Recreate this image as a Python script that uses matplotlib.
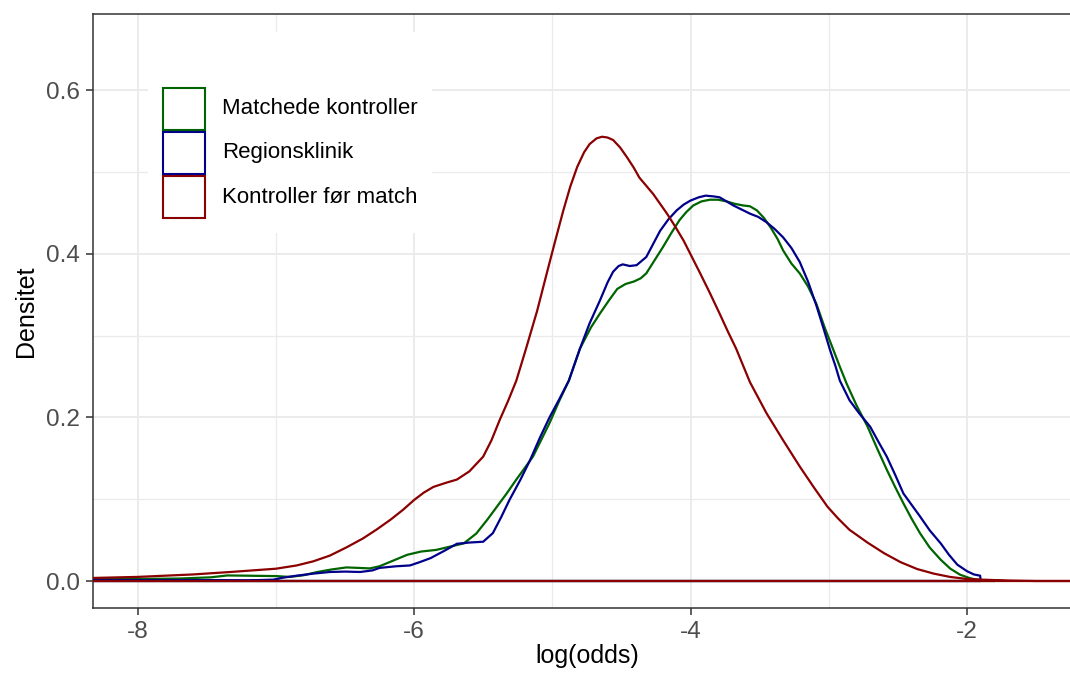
import numpy as np
import matplotlib.pyplot as plt
from matplotlib.patches import Rectangle
from matplotlib.ticker import FormatStrFormatter

plt.rcParams['font.family'] = ['Liberation Sans', 'DejaVu Sans']
plt.rcParams['axes.unicode_minus'] = False

# Matchede kontroller (groen)
x_match = [-8.6, -8.33, -8.0, -7.7, -7.47, -7.35, -7.0, -6.9, -6.8, -6.7, -6.6,
           -6.49, -6.4, -6.32, -6.25, -6.15, -6.05, -5.95, -5.84, -5.74, -5.64,
           -5.55, -5.47, -5.40, -5.33, -5.26, -5.14, -5.02, -4.95, -4.88, -4.80,
           -4.72, -4.655, -4.59, -4.53, -4.47, -4.41, -4.36, -4.32, -4.26, -4.20,
           -4.14, -4.08, -4.03, -3.98, -3.92, -3.86, -3.80, -3.74, -3.68, -3.62,
           -3.57, -3.52, -3.47, -3.42, -3.37, -3.33, -3.27, -3.21, -3.15, -3.09,
           -3.03, -2.97, -2.92, -2.87, -2.80, -2.72, -2.65, -2.58, -2.52, -2.46,
           -2.40, -2.34, -2.27, -2.19, -2.12, -2.05, -1.98, -1.93, -1.85, -1.80]
y_match = [0.002, 0.0024, 0.0025, 0.003, 0.0045, 0.0068, 0.006, 0.005, 0.007, 0.011, 0.014,
           0.0166, 0.016, 0.0154, 0.018, 0.025, 0.032, 0.036, 0.038, 0.042, 0.046,
           0.058, 0.075, 0.091, 0.107, 0.124, 0.152, 0.193, 0.220, 0.245, 0.284,
           0.310, 0.327, 0.343, 0.357, 0.363, 0.366, 0.370, 0.376, 0.392, 0.408,
           0.425, 0.441, 0.451, 0.459, 0.464, 0.466, 0.466, 0.464, 0.461, 0.459,
           0.458, 0.453, 0.444, 0.432, 0.418, 0.404, 0.388, 0.376, 0.360, 0.339,
           0.310, 0.284, 0.262, 0.241, 0.215, 0.189, 0.162, 0.136, 0.115, 0.095,
           0.076, 0.0585, 0.041, 0.026, 0.015, 0.0077, 0.0035, 0.0016, 0.0005, 0.0]

# Regionsklinik (blaa)
x_region = [-8.6, -8.33, -8.0, -7.5, -7.2, -7.02, -6.95, -6.85, -6.73, -6.61, -6.5,
            -6.39, -6.30, -6.25, -6.13, -6.03, -5.96, -5.88, -5.78, -5.69, -5.60,
            -5.50, -5.43, -5.37, -5.31, -5.23, -5.16, -5.09, -5.02, -4.95, -4.88,
            -4.80, -4.73, -4.655, -4.60, -4.56, -4.52, -4.49, -4.44, -4.39, -4.32,
            -4.27, -4.22, -4.16, -4.10, -4.05, -4.00, -3.94, -3.89, -3.83, -3.79,
            -3.74, -3.69, -3.63, -3.57, -3.51, -3.45, -3.39, -3.33, -3.27, -3.21,
            -3.15, -3.09, -3.04, -2.99, -2.95, -2.92, -2.85, -2.78, -2.70, -2.64,
            -2.58, -2.52, -2.46, -2.40, -2.34, -2.27, -2.19, -2.13, -2.07, -2.00,
            -1.95, -1.905, -1.90]
y_region = [0.0008, 0.0008, 0.001, 0.001, 0.0008, 0.0016, 0.004, 0.0065, 0.009, 0.011, 0.0115,
            0.011, 0.013, 0.016, 0.018, 0.019, 0.023, 0.028, 0.037, 0.0455, 0.047,
            0.048, 0.0585, 0.078, 0.099, 0.124, 0.148, 0.175, 0.200, 0.222, 0.245,
            0.284, 0.315, 0.343, 0.365, 0.378, 0.385, 0.387, 0.385, 0.386, 0.396,
            0.412, 0.428, 0.442, 0.453, 0.460, 0.465, 0.469, 0.471, 0.470, 0.469,
            0.464, 0.459, 0.454, 0.449, 0.445, 0.4385, 0.430, 0.420, 0.407, 0.390,
            0.366, 0.337, 0.310, 0.282, 0.262, 0.245, 0.221, 0.205, 0.1885, 0.170,
            0.152, 0.130, 0.107, 0.093, 0.079, 0.062, 0.046, 0.032, 0.020, 0.012,
            0.008, 0.0065, 0.0]

# Kontroller foer match (roed)
x_before = [-8.6, -8.33, -8.0, -7.6, -7.33, -7.0, -6.85, -6.73, -6.61, -6.49, -6.37,
            -6.27, -6.17, -6.08, -6.0, -5.93, -5.86, -5.77, -5.69, -5.60, -5.50,
            -5.44, -5.38, -5.32, -5.26, -5.19, -5.11, -5.04, -4.98, -4.92, -4.87,
            -4.82, -4.77, -4.73, -4.68, -4.64, -4.60, -4.56, -4.51, -4.46, -4.41,
            -4.37, -4.32, -4.27, -4.22, -4.17, -4.11, -4.05, -3.99, -3.93, -3.86,
            -3.79, -3.73, -3.67, -3.57, -3.45, -3.33, -3.21, -3.11, -3.01, -2.93,
            -2.85, -2.72, -2.60, -2.48, -2.36, -2.24, -2.12, -2.0, -1.88, -1.7,
            -1.5, -1.0]
y_before = [0.003, 0.0037, 0.005, 0.008, 0.011, 0.015, 0.019, 0.024, 0.031, 0.041, 0.052,
            0.063, 0.075, 0.087, 0.099, 0.108, 0.115, 0.120, 0.124, 0.134, 0.152,
            0.172, 0.197, 0.220, 0.245, 0.284, 0.330, 0.376, 0.415, 0.453, 0.482,
            0.506, 0.524, 0.534, 0.541, 0.543, 0.542, 0.539, 0.530, 0.518, 0.505,
            0.493, 0.483, 0.473, 0.461, 0.449, 0.433, 0.416, 0.396, 0.376, 0.352,
            0.327, 0.305, 0.284, 0.243, 0.205, 0.172, 0.140, 0.115, 0.091, 0.076,
            0.0626, 0.047, 0.034, 0.023, 0.0146, 0.009, 0.0049, 0.0025, 0.0016, 0.0005,
            0.0, 0.0]

labels = ['Matchede kontroller', 'Regionsklinik', 'Kontroller før match']
colors = ['#006400', '#00008B', '#8B0000']
series = [(x_match, y_match), (x_region, y_region), (x_before, y_before)]

W, H = 1070, 679
fig = plt.figure(figsize=(W / 100, H / 100), dpi=100)
left, right, top, bottom = 92.7, 1081, 14, 608
ax = fig.add_axes([left / W, 1 - bottom / H, (right - left) / W, (bottom - top) / H])


def px(x, y):
    # pixel (fra venstre/top) -> figurkoordinater
    return x / W, 1 - y / H


# density-omrids som lukket polygon (som geom_density uden fyld)
for (xs, ys), c in zip(series, colors):
    xs = np.array(xs)
    ys = np.array(ys)
    xp = np.concatenate([[xs[0]], xs, [xs[-1], xs[0]]])
    yp = np.concatenate([[0], ys, [0, 0]])
    ax.plot(xp, yp, color=c, lw=1.6, solid_joinstyle='round', zorder=3)

ax.set_xlim(-8.325, -1.175)
ax.set_ylim(-0.033, 0.693)
ax.set_xticks([-8, -6, -4, -2])
ax.set_xticks([-7, -5, -3], minor=True)
ax.set_yticks([0.0, 0.2, 0.4, 0.6])
ax.set_yticks([0.1, 0.3, 0.5], minor=True)
ax.yaxis.set_major_formatter(FormatStrFormatter('%.1f'))
ax.grid(which='major', color='#EBEBEB', lw=1.4)
ax.grid(which='minor', color='#EBEBEB', lw=0.9)
ax.set_axisbelow(True)
ax.tick_params(which='major', length=5, width=1.1, color='#333333',
               labelsize=17.6, labelcolor='#4D4D4D', pad=4)
ax.tick_params(which='minor', length=0)
for s in ax.spines.values():
    s.set_color('#333333')
    s.set_linewidth(1.1)

ax.set_xlabel('log(odds)', fontsize=18, color='black')
ax.set_ylabel('Densitet', fontsize=18, color='black')
ax.xaxis.set_label_coords(0.5, (bottom - 644) / (bottom - top))
ax.yaxis.set_label_coords((38 - left) / (right - left), 0.5)

# legende
bx0, by0 = px(148, 233)
bx1, by1 = px(432, 32)
ax.add_patch(Rectangle((bx0, by0), bx1 - bx0, by1 - by0, transform=fig.transFigure,
                       facecolor='white', edgecolor='none', zorder=5, clip_on=False))
for i, (lab, c) in enumerate(zip(labels, colors)):
    ky = 87.7 + i * 44.2
    kx0, ky0 = px(163, ky + 42)
    kx1, ky1 = px(205, ky)
    ax.add_patch(Rectangle((kx0, ky0), kx1 - kx0, ky1 - ky0, transform=fig.transFigure,
                           facecolor='none', edgecolor=c, lw=1.5, zorder=6, clip_on=False))
    tx, ty = px(221.7, ky + 21)
    fig.text(tx, ty, lab, fontsize=16, va='center', ha='left', color='black', zorder=7)

fig.savefig('out.png', dpi=100)
